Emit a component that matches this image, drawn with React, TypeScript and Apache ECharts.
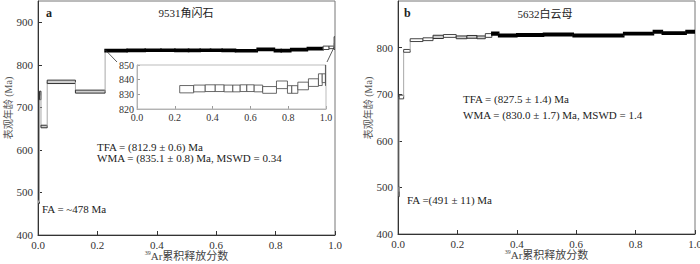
import React, { useEffect, useRef } from 'react';
import * as echarts from 'echarts';

// Panel a: 9531 hornblende — step boundaries (cumulative 39Ar fraction), ages, 1σ errors, style (0 white, 1 grey, 2 black/plateau)
const aEdges = [0, 0.005, 0.01, 0.031, 0.126, 0.226, 0.30, 0.361, 0.414, 0.461, 0.507, 0.546, 0.581, 0.620, 0.665, 0.738, 0.796, 0.819, 0.851, 0.907, 0.960, 0.980, 0.997, 1.0];
const aAges = [478, 728, 655, 760, 737, 833.5, 834, 834.2, 834.2, 834, 834, 834.2, 834.2, 834, 833, 836.5, 833.3, 833.3, 835.7, 838, 840, 841, 851];
const aErrors = [4, 10, 3, 4, 3.5, 2.5, 2.3, 2.3, 2.3, 2.3, 2.3, 2.3, 2.3, 2.3, 2.3, 2.6, 2.6, 2.6, 2.6, 2.6, 4, 3, 15];
const aKinds = [0, 1, 1, 1, 1, 2, 2, 2, 2, 2, 2, 2, 2, 2, 2, 2, 2, 2, 2, 2, 0, 0, 0];
const insetFirstStep = 5;

// Panel b: 5632 muscovite
const bEdges = [0, 0.004, 0.019, 0.041, 0.084, 0.118, 0.153, 0.196, 0.232, 0.266, 0.294, 0.316, 0.339, 0.40, 0.49, 0.59, 0.76, 0.86, 0.89, 0.97, 1.0];
const bAges = [491, 694, 793, 816, 818, 823, 825, 822, 823, 822, 826, 830, 826, 827, 828, 826, 830, 834, 831, 834];
const bErrors = [11, 4, 3, 3, 3, 3.5, 3, 3, 3, 3, 4, 3, 2.5, 2.5, 2.5, 2.5, 2.5, 2.5, 2.5, 2.5];
const bKinds = [1, 0, 0, 0, 0, 1, 0, 1, 1, 1, 0, 2, 2, 2, 2, 2, 2, 2, 2, 2];

const SERIF = "'Liberation Serif', 'Noto Sans CJK SC', serif";
const CJK = "'Liberation Serif', 'Noto Sans CJK SC', sans-serif";

function buildSteps(edges: number[], ages: number[], errs: number[], kinds: number[], from = 0, forceKind = -1) {
  const rows: number[][] = [];
  for (let i = from; i < ages.length; i++) {
    rows.push([edges[i], edges[i + 1], ages[i], errs[i], i > from ? ages[i - 1] : -1, forceKind >= 0 ? forceKind : kinds[i]]);
  }
  return rows;
}

const makeRender = (connectors: boolean, thin: boolean) => (params: any, api: any) => {
  const x0 = api.value(0), x1 = api.value(1), age = api.value(2), err = api.value(3), prev = api.value(4), kind = api.value(5);
  const tl = api.coord([x0, age + err]);
  const br = api.coord([x1, age - err]);
  const children: any[] = [];
  if (connectors && prev > 0) {
    const p0 = api.coord([x0, prev]);
    const p1 = api.coord([x0, age]);
    children.push({ type: 'line', shape: { x1: p0[0], y1: p0[1], x2: p1[0], y2: p1[1] }, style: { stroke: '#a8a8a8', lineWidth: 1 } });
  }
  let fill = '#fff', stroke = '#444', lw = thin ? 0.8 : 1;
  if (kind === 1) { fill = '#cfcfcf'; stroke = '#333'; }
  if (kind === 2) { fill = '#000'; stroke = '#000'; lw = 1.6; }
  children.push({ type: 'rect', shape: { x: tl[0], y: tl[1], width: br[0] - tl[0], height: br[1] - tl[1] }, style: { fill, stroke, lineWidth: lw } });
  return { type: 'group', children };
};

const axisCommon = (gridIndex: number) => ({
  gridIndex,
  axisLine: { show: true, onZero: false, lineStyle: { color: '#333', width: 1 } },
  axisTick: { show: true, inside: true, length: 4, lineStyle: { color: '#333' } },
  splitLine: { show: false },
  axisLabel: { color: '#333', fontFamily: SERIF, fontSize: 11 },
});

const xName = {
  name: '{s|39}{n|Ar累积释放分数}',
  nameLocation: 'middle' as const,
  nameGap: 15,
  nameMoveOverlap: false,
  nameTextStyle: {
    rich: {
      s: { fontSize: 6, fontFamily: SERIF, color: '#444', verticalAlign: 'top', lineHeight: 11 },
      n: { fontSize: 11, fontFamily: CJK, color: '#444', lineHeight: 11 },
    },
  },
};

export default function App() {
  const ref = useRef<HTMLDivElement>(null);
  useEffect(() => {
    if (!ref.current) return;
    const chart = echarts.init(ref.current, undefined, { renderer: 'svg' });
    const fmt = (v: number) => v.toFixed(1);
    const option: any = {
      animation: false,
      backgroundColor: '#fff',
      grid: [
        { left: 38, top: 1, width: 297, height: 234, show: true, borderColor: '#777', borderWidth: 1, outerBoundsMode: 'none' },
        { left: 137, top: 65, width: 189, height: 44, show: true, borderColor: '#bbb', borderWidth: 1, outerBoundsMode: 'none', z: 5 },
        { left: 398, top: 1, width: 297, height: 233, show: true, borderColor: '#777', borderWidth: 1, outerBoundsMode: 'none' },
      ],
      xAxis: [
        { ...axisCommon(0), type: 'value', min: 0, max: 1, interval: 0.2, ...xName, axisLabel: { ...axisCommon(0).axisLabel, formatter: fmt, margin: 4 } },
        {
          ...axisCommon(1), type: 'value', min: 0, max: 1, interval: 0.2,
          axisLine: { show: true, onZero: false, lineStyle: { color: '#aaa' } },
          axisTick: { show: true, inside: true, length: 3, lineStyle: { color: '#999' } },
          axisLabel: { color: '#333', fontFamily: SERIF, fontSize: 10, formatter: fmt, margin: 3 },
        },
        { ...axisCommon(2), type: 'value', min: 0, max: 1, interval: 0.2, ...xName, axisLabel: { ...axisCommon(2).axisLabel, formatter: fmt, margin: 4 } },
      ],
      yAxis: [
        { ...axisCommon(0), type: 'value', min: 400, max: 950, interval: 100, axisLabel: { ...axisCommon(0).axisLabel, showMaxLabel: false, margin: 5 } },
        {
          ...axisCommon(1), type: 'value', min: 820, max: 850, interval: 10,
          axisLine: { show: true, onZero: false, lineStyle: { color: '#aaa' } },
          axisTick: { show: true, inside: true, length: 3, lineStyle: { color: '#999' } },
          axisLabel: { color: '#333', fontFamily: SERIF, fontSize: 10, margin: 3 },
        },
        { ...axisCommon(2), type: 'value', min: 400, max: 900, interval: 100, axisLabel: { ...axisCommon(2).axisLabel, showMaxLabel: false, margin: 5 } },
      ],
      series: [
        { type: 'custom', xAxisIndex: 0, yAxisIndex: 0, renderItem: makeRender(true, false), data: buildSteps(aEdges, aAges, aErrors, aKinds), clip: true, encode: { x: [0, 1], y: [2] } },
        { type: 'custom', xAxisIndex: 1, yAxisIndex: 1, renderItem: makeRender(false, true), data: buildSteps(aEdges, aAges, aErrors, aKinds, insetFirstStep, 0), clip: true, z: 10, encode: { x: [0, 1], y: [2] } },
        { type: 'custom', xAxisIndex: 2, yAxisIndex: 2, renderItem: makeRender(true, false), data: buildSteps(bEdges, bAges, bErrors, bKinds), clip: true, encode: { x: [0, 1], y: [2] } },
      ],
    };
    chart.setOption(option);

    const txt = (text: string, x: number, y: number, extra: any = {}) => ({
      type: 'text', x, y, z: 20,
      style: { text, fill: '#222', fontFamily: SERIF, fontSize: 11, textVerticalAlign: 'middle', ...extra },
    });
    const yTitle = (x: number, y: number) => ({
      type: 'text', x, y, z: 20, rotation: Math.PI / 2,
      style: { text: '表观年龄 (Ma)', fill: '#555', fontFamily: CJK, fontSize: 10, textAlign: 'center', textVerticalAlign: 'middle' },
    });
    const pMainL = chart.convertToPixel({ gridIndex: 0 }, [aEdges[insetFirstStep], aAges[insetFirstStep] + 2]) as number[];
    const pMainR = chart.convertToPixel({ gridIndex: 0 }, [1.0, 841]) as number[];
    const pInL = chart.convertToPixel({ gridIndex: 1 }, [0, 850]) as number[];
    const pInR = chart.convertToPixel({ gridIndex: 1 }, [1, 850]) as number[];
    chart.setOption({
      graphic: [
        { type: 'line', z: 20, shape: { x1: pMainL[0], y1: pMainL[1], x2: pInL[0] - 20, y2: pInL[1] - 3 }, style: { stroke: '#333', lineWidth: 0.8 } },
        { type: 'line', z: 20, shape: { x1: pMainR[0] - 1, y1: pMainR[1], x2: pInR[0] + 1, y2: pInR[1] - 3 }, style: { stroke: '#333', lineWidth: 0.8 } },
        yTitle(8, 108),
        yTitle(368, 108),
        txt('a', 46, 13, { fontWeight: 'bold', fontSize: 12 }),
        txt('9531角闪石', 186, 13, { textAlign: 'center', fontFamily: CJK }),
        txt('TFA = (812.9 ± 0.6) Ma', 97, 147),
        txt('WMA = (835.1 ± 0.8) Ma, MSWD = 0.34', 97, 158),
        txt('FA = ~478 Ma', 42, 209),
        txt('b', 404, 13, { fontWeight: 'bold', fontSize: 12 }),
        txt('5632白云母', 545, 14, { textAlign: 'center', fontFamily: CJK }),
        txt('TFA = (827.5 ± 1.4) Ma', 463, 99),
        txt('WMA = (830.0 ± 1.7) Ma, MSWD = 1.4', 463, 115),
        txt('FA =(491 ± 11) Ma', 407, 200),
      ],
    });
    return () => chart.dispose();
  }, []);
  return <div ref={ref} style={{ position: 'absolute', left: 0, top: 0, width: 700, height: 264 }} />;
}
